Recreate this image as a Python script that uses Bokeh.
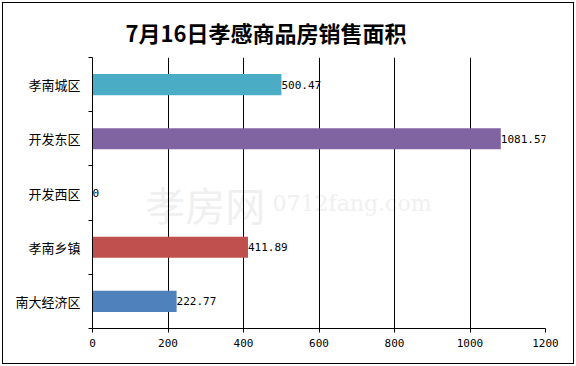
from bokeh.plotting import figure
from bokeh.models import Range1d, FixedTicker, ColumnDataSource, Label
from bokeh.embed import file_html
from bokeh.resources import INLINE
from bokeh.core.properties import value

# Data (bottom to top)
categories = ["南大经济区", "孝南乡镇", "开发西区", "开发东区", "孝南城区"]
areas = [222.77, 411.89, 0, 1081.57, 500.47]
palette = ["#4F81BD", "#C0504D", "#8064A2", "#8064A2", "#4BACC6"]
x_ticks = [0, 200, 400, 600, 800, 1000, 1200]
title_text = "7月16日孝感商品房销售面积"

pos = list(range(len(categories)))
src = ColumnDataSource(dict(
    y=pos, v=areas, c=palette,
    lbl=[("%.2f" % a).rstrip("0").rstrip(".") if a != int(a) else str(int(a)) for a in areas],
))

p = figure(width=576, height=366, output_backend="svg", toolbar_location=None,
           x_range=Range1d(0, 1200), y_range=Range1d(-0.5, len(categories) - 0.5),
           min_border_left=92, min_border_right=31, min_border_bottom=38, min_border_top=57,
           title=title_text)
p.styles = {"outline": "1px solid black", "outline-offset": "-3px", "background-color": "white"}
p.title.text_font = "Noto Sans CJK SC"
p.title.text_font_size = "22px"
p.title.text_font_style = "bold"
p.title.text_color = "black"
p.title.align = "left"
p.title.offset = 33
p.title.standoff = 20
p.outline_line_color = None
p.background_fill_color = "white"
p.border_fill_color = None

p.hbar(y="y", right="v", left=0, height=0.39, fill_color="c", line_color=None, source=src)
p.text(x="v", y="y", text="lbl", source=src, text_baseline="middle", text_align="left",
       x_offset=0, text_font=value("DejaVu Sans Mono"), text_font_size="11px", text_color="black")

# watermark
p.add_layout(Label(x=140, y=1.8, text="孝房网", text_font="Noto Sans CJK SC",
                   text_font_size="40px", text_color="#F0F0F0", text_baseline="middle",
                   level="image"))
p.add_layout(Label(x=477, y=1.8, text="0712fang.com", text_font="DejaVu Serif",
                   text_font_size="22px", text_color="#F0F0F0", text_baseline="middle",
                   level="image"))

# x axis
p.xaxis.ticker = FixedTicker(ticks=x_ticks)
p.xaxis.major_tick_out = 4
p.xaxis.major_tick_in = 0
p.xaxis.minor_tick_line_color = None
p.xaxis.axis_line_color = "black"
p.xaxis.major_tick_line_color = "black"
p.xaxis.major_label_text_font = "DejaVu Sans Mono"
p.xaxis.major_label_text_font_size = "11px"
p.xaxis.major_label_text_color = "black"
p.xaxis.major_label_standoff = 6
p.xgrid.ticker = FixedTicker(ticks=x_ticks)
p.xgrid.grid_line_color = "black"
p.xgrid.grid_line_width = 1

# y axis: labels at centres, tick marks at boundaries
p.yaxis.ticker = FixedTicker(ticks=pos, minor_ticks=[i - 0.5 for i in range(len(categories) + 1)])
p.yaxis.major_label_overrides = {i: c for i, c in zip(pos, categories)}
p.yaxis.major_tick_out = 0
p.yaxis.major_tick_in = 0
p.yaxis.minor_tick_out = 4
p.yaxis.minor_tick_in = 0
p.yaxis.minor_tick_line_color = "black"
p.yaxis.axis_line_color = "black"
p.yaxis.major_label_text_font = "Noto Sans CJK SC"
p.yaxis.major_label_text_font_size = "13px"
p.yaxis.major_label_text_color = "black"
p.yaxis.major_label_standoff = 8
p.ygrid.grid_line_color = None

open("out.html", "w").write(file_html(p, INLINE))
